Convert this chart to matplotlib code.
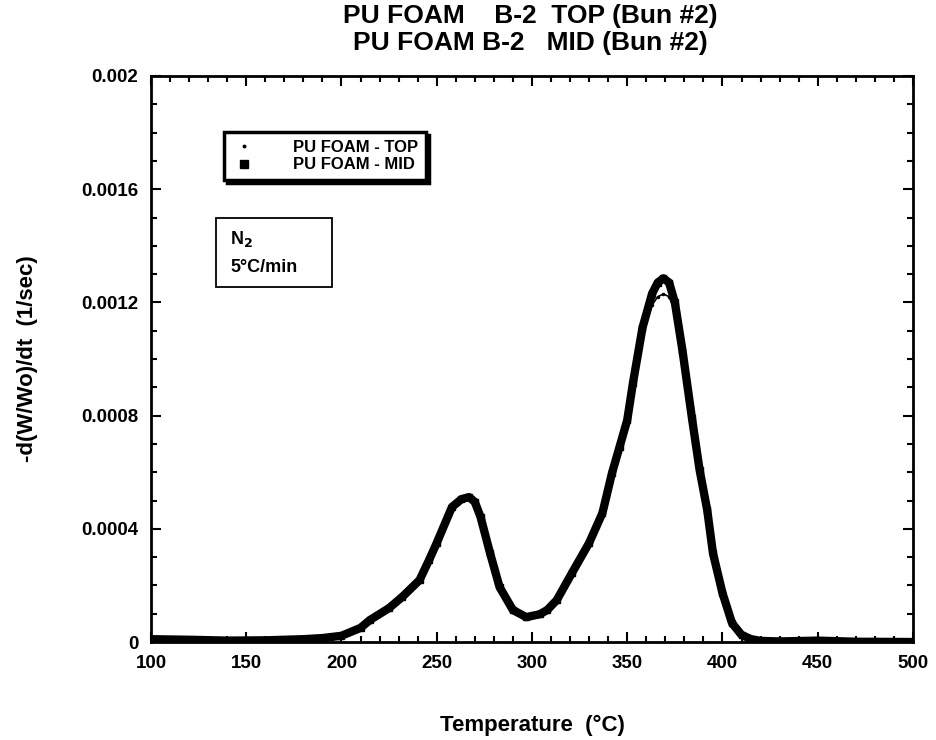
import numpy as np
import matplotlib.pyplot as plt
from matplotlib.patches import Rectangle
from matplotlib.ticker import MultipleLocator

plt.rcParams['font.family'] = ['Liberation Sans', 'DejaVu Sans']
plt.rcParams['font.weight'] = 'bold'

# temperature (C) and -d(W/Wo)/dt (1/sec)
temp = [100, 120, 140, 160, 180, 190, 200, 210, 215, 225, 232, 241, 246, 250,
        258, 263, 267, 270, 273, 278, 283, 290, 297, 304, 308, 313, 321, 330,
        337, 342, 346, 350, 353, 358, 363, 366, 369, 372, 375, 379, 384, 388,
        392, 395, 400, 405, 410, 415, 420, 430, 450, 470, 500]
mid = [0.000010, 0.000008, 0.000005, 0.000006, 0.000010, 0.000014, 0.000022,
       0.000050, 0.000078, 0.000120, 0.000160, 0.000219, 0.000290, 0.000350,
       0.000477, 0.000505, 0.000512, 0.000495, 0.000442, 0.000314, 0.000194,
       0.000113, 0.000088, 0.000098, 0.000113, 0.000148, 0.000244, 0.000350,
       0.000456, 0.000597, 0.000690, 0.000784, 0.000915, 0.001110, 0.001230,
       0.001270, 0.001285, 0.001270, 0.001200, 0.001030, 0.000790, 0.000608,
       0.000466, 0.000314, 0.000173, 0.000067, 0.000025, 0.000010, 0.000004,
       0.000002, 0.000005, 0.000001, 0.000000]
top = [0.000010, 0.000008, 0.000005, 0.000006, 0.000010, 0.000014, 0.000022,
       0.000050, 0.000078, 0.000120, 0.000160, 0.000219, 0.000290, 0.000350,
       0.000477, 0.000505, 0.000512, 0.000495, 0.000442, 0.000314, 0.000194,
       0.000113, 0.000088, 0.000098, 0.000113, 0.000148, 0.000244, 0.000355,
       0.000470, 0.000610, 0.000700, 0.000790, 0.000915, 0.001090, 0.001190,
       0.001220, 0.001230, 0.001220, 0.001170, 0.001020, 0.000790, 0.000608,
       0.000466, 0.000314, 0.000173, 0.000067, 0.000025, 0.000010, 0.000004,
       0.000002, 0.000005, 0.000001, 0.000000]

fig = plt.figure(figsize=(9.36, 7.4), dpi=100)
ax = fig.add_axes([0.1613, 0.1324, 0.8141, 0.7649])

ax.plot(temp, mid, color='black', lw=6, solid_capstyle='round')
ax.plot(temp, mid, 's', color='black', ms=5, label='PU FOAM - MID')
ax.plot(temp, top, '-', color='black', lw=1.2)
ax.plot(temp, top, '.', color='black', ms=3, label='PU FOAM - TOP')

ax.set_xlim(100, 500)
ax.set_ylim(0, 0.002)
ax.xaxis.set_major_locator(MultipleLocator(50))
ax.xaxis.set_minor_locator(MultipleLocator(10))
ax.yaxis.set_major_locator(MultipleLocator(0.0004))
ax.yaxis.set_minor_locator(MultipleLocator(0.0001))
ax.set_yticks([0, 0.0004, 0.0008, 0.0012, 0.0016, 0.002])
ax.set_yticklabels(['0', '0.0004', '0.0008', '0.0012', '0.0016', '0.002'])
ax.tick_params(which='both', direction='in', top=True, right=True,
               labelsize=13.5, width=1.5)
ax.tick_params(which='major', length=7, pad=9)
ax.tick_params(which='minor', length=4)
for s in ax.spines.values():
    s.set_linewidth(2)

ax.set_xlabel('Temperature  (°C)', fontsize=16, fontweight='bold', labelpad=31)
ax.set_ylabel('-d(W/Wo)/dt  (1/sec)', fontsize=16, fontweight='bold', labelpad=31)
fig.text(0.567, 0.978, 'PU FOAM    B-2  TOP (Bun #2)', ha='center', va='center',
         fontsize=19, fontweight='bold')
fig.text(0.567, 0.942, 'PU FOAM B-2   MID (Bun #2)', ha='center', va='center',
         fontsize=19, fontweight='bold')

h, l = ax.get_legend_handles_labels()
leg = ax.legend(h[::-1], l[::-1], loc='upper left', bbox_to_anchor=(0.085, 0.915),
                fancybox=False, framealpha=1, edgecolor='black',
                shadow={'color': 'black', 'alpha': 1}, fontsize=12,
                handlelength=1.5, handletextpad=2.2, borderpad=0.45,
                labelspacing=0.15, markerscale=1.2)
leg.get_frame().set_linewidth(2.5)
for t in leg.get_texts():
    t.set_fontweight('bold')

# conditions box
ax.add_patch(Rectangle((0.0853, 0.627), 0.152, 0.122, transform=ax.transAxes,
                       fc='white', ec='black', lw=1.3, zorder=4))
ax.text(0.104, 0.712, 'N$_\\mathbf{2}$', transform=ax.transAxes,
        ha='left', va='center', fontsize=13, zorder=5)
ax.text(0.104, 0.662, '5°C/min', transform=ax.transAxes,
        ha='left', va='center', fontsize=13, zorder=5)

fig.savefig('out.png', dpi=100)
